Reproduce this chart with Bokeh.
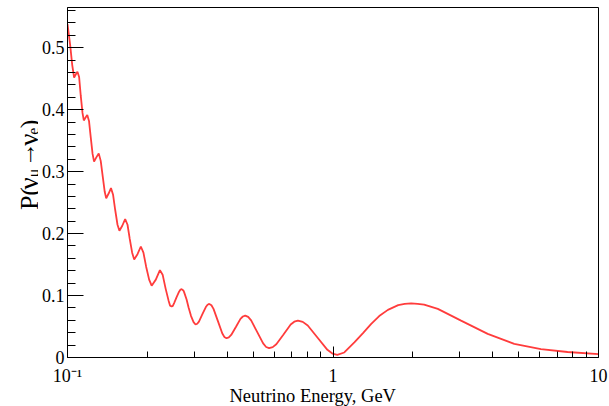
from math import pi
from bokeh.plotting import figure
from bokeh.layouts import row
from bokeh.models import FixedTicker, CustomJSTickFormatter, Title
from bokeh.core.properties import value
from bokeh.embed import file_html
from bokeh.resources import INLINE

# ---- data ----
energy_gev = [
    0.1, 0.1023, 0.1042, 0.1059, 0.1074, 0.1090, 0.1106, 0.1122, 0.1139, 0.1152,
    0.1170, 0.1187, 0.1205, 0.1224, 0.1243, 0.1259, 0.1284, 0.1311, 0.1334, 0.1358,
    0.1381, 0.1399, 0.1430, 0.1458, 0.1485, 0.1512, 0.1543, 0.1569, 0.1608, 0.1649,
    0.1683, 0.1715, 0.1752, 0.1783, 0.1835, 0.1889, 0.1932, 0.1978, 0.2030, 0.2075,
    0.2151, 0.2229, 0.2282, 0.2342, 0.2403, 0.2435, 0.2466, 0.2493, 0.2521, 0.2576,
    0.2632, 0.2661, 0.2690, 0.2731, 0.2749, 0.2809, 0.2858, 0.2920, 0.2984, 0.3036,
    0.3081, 0.3127, 0.3222, 0.3319, 0.3369, 0.3420, 0.3484, 0.3548, 0.3686, 0.3826,
    0.3896, 0.3972, 0.4051, 0.4136, 0.4307, 0.4482, 0.4576, 0.4670, 0.4791, 0.4917,
    0.5179, 0.5456, 0.5599, 0.5746, 0.5929, 0.6116, 0.6510, 0.6928, 0.7147, 0.7375,
    0.7693, 0.8033, 0.8752, 0.9526, 0.9948, 1.038, 1.103, 1.206, 1.297, 1.393,
    1.493, 1.610, 1.760, 1.862, 1.970, 2.084, 2.204, 2.482, 3.036, 3.826,
    4.816, 6.069, 7.646, 10.0,
]
prob_mu_e = [
    0.5382, 0.5052, 0.4721, 0.4520, 0.4568, 0.4613, 0.4528, 0.4222, 0.3948, 0.3827,
    0.3875, 0.3916, 0.3819, 0.3545, 0.3287, 0.3163, 0.3231, 0.3295, 0.3174, 0.2917,
    0.2675, 0.2570, 0.2651, 0.2734, 0.2626, 0.2385, 0.2143, 0.2046, 0.2127, 0.2235,
    0.2143, 0.1918, 0.1692, 0.1582, 0.1668, 0.1792, 0.1692, 0.1466, 0.1257, 0.1160,
    0.1257, 0.1410, 0.1337, 0.1112, 0.0918, 0.0835, 0.0822, 0.0833, 0.0878, 0.0975,
    0.1063, 0.1093, 0.1104, 0.1083, 0.1055, 0.0935, 0.0806, 0.0669, 0.0572, 0.0532,
    0.0545, 0.0580, 0.0699, 0.0815, 0.0852, 0.0865, 0.0844, 0.0785, 0.0588, 0.0392,
    0.0332, 0.0311, 0.0325, 0.0364, 0.0493, 0.0624, 0.0662, 0.0677, 0.0657, 0.0599,
    0.0413, 0.0227, 0.0169, 0.0150, 0.0168, 0.0214, 0.0372, 0.0532, 0.0578, 0.0596,
    0.0575, 0.0516, 0.0319, 0.0124, 0.0064, 0.0044, 0.0081, 0.0247, 0.0395, 0.0543,
    0.0669, 0.0769, 0.0846, 0.0865, 0.0875, 0.0867, 0.0854, 0.0785, 0.0596, 0.0382,
    0.0221, 0.0134, 0.0089, 0.0056,
]

x_major = [0.1, 1.0, 10.0]
x_major_labels = ["10\u207b\u00b9", "1", "10"]
x_minor = [0.2, 0.3, 0.4, 0.5, 0.6, 0.7, 0.8, 0.9, 2, 3, 4, 5, 6, 7, 8, 9]
y_major = [0.0, 0.1, 0.2, 0.3, 0.4, 0.5]
y_major_labels = ["0", "0.1", "0.2", "0.3", "0.4", "0.5"]
y_minor = [0.02, 0.04, 0.06, 0.08, 0.12, 0.14, 0.16, 0.18, 0.22, 0.24, 0.26, 0.28,
           0.32, 0.34, 0.36, 0.38, 0.42, 0.44, 0.46, 0.48, 0.52, 0.54, 0.56]

x_title = "Neutrino Energy, GeV"
y_title_roman = ["P(", ")"]
y_title_nu = ["\u03bd", "\u03bd"]
y_title_arrow = ["\u2192"]
y_title_subs = ["\u03bc", "e"]
FONT = "Liberation Serif"

W, H = 609, 406
TW = 38   # left strip carrying the y title

# ---- strip with the y title ----
ty = figure(width=TW, height=H, x_range=(0, TW), y_range=(0, H),
            output_backend="svg", toolbar_location=None,
            x_axis_location=None, y_axis_location=None, min_border=0)
ty.outline_line_color = None
ty.xgrid.visible = False
ty.ygrid.visible = False
ty.background_fill_color = "white"
ty.border_fill_color = "white"
ty.text(x=[28.5, 28.5], y=[171, 266], text=y_title_roman,
        angle=pi / 2, text_font=value(FONT), text_font_size="26px", text_color="black",
        text_align="left", text_baseline="alphabetic")
ty.text(x=[28.5, 28.5], y=[195, 245.5], text=y_title_nu,
        angle=pi / 2, text_font=value(FONT), text_font_size="27px", text_color="black",
        text_align="left", text_baseline="alphabetic")
ty.text(x=[26], y=[221], text=y_title_arrow,
        angle=pi / 2, text_font=value(FONT), text_font_size="25px", text_color="black",
        text_align="left", text_baseline="alphabetic")
ty.text(x=[33, 33], y=[209, 258.5], text=y_title_subs,
        angle=pi / 2, text_font=value(FONT), text_font_size="16px", text_color="black",
        text_align="left", text_baseline="alphabetic")

# ---- main plot ----
p = figure(width=W - TW, height=H, x_axis_type="log", x_range=(0.1, 10), y_range=(0, 0.565),
           output_backend="svg", toolbar_location=None,
           min_border_left=66 - TW, min_border_right=11, min_border_top=7,
           min_border_bottom=49)
p.background_fill_color = "white"
p.border_fill_color = "white"
p.outline_line_color = "black"
p.outline_line_width = 1
p.xgrid.visible = False
p.ygrid.visible = False

p.line(energy_gev, prob_mu_e, line_color="#ff3c3c", line_width=1.8)

# x axis
p.xaxis.ticker = FixedTicker(ticks=x_major, minor_ticks=x_minor)
p.xaxis.formatter = CustomJSTickFormatter(args=dict(vals=x_major, labs=x_major_labels), code="""
for (let i = 0; i < vals.length; i++) {
  if (Math.abs(Math.log10(tick) - Math.log10(vals[i])) < 1e-6) return labs[i];
}
return "";
""")
p.xaxis.major_tick_in = 11
p.xaxis.major_tick_out = 0
p.xaxis.minor_tick_in = 6
p.xaxis.minor_tick_out = 0
p.xaxis.major_label_standoff = 8

# y axis
p.yaxis.ticker = FixedTicker(ticks=y_major, minor_ticks=y_minor)
p.yaxis.formatter = CustomJSTickFormatter(args=dict(vals=y_major, labs=y_major_labels), code="""
for (let i = 0; i < vals.length; i++) {
  if (Math.abs(tick - vals[i]) < 1e-6) return labs[i];
}
return "";
""")
p.yaxis.major_tick_in = 16
p.yaxis.major_tick_out = 0
p.yaxis.minor_tick_in = 8
p.yaxis.minor_tick_out = 0
p.yaxis.major_label_standoff = 3
p.yaxis.major_label_orientation = "horizontal"

for ax in (p.xaxis[0], p.yaxis[0]):
    ax.axis_line_color = "black"
    ax.major_tick_line_color = "black"
    ax.minor_tick_line_color = "black"
    ax.major_label_text_font = FONT
    ax.major_label_text_font_size = "18px"
    ax.major_label_text_color = "black"

# x title below the axis
p.add_layout(Title(text=x_title, align="left", offset=228 - 66, standoff=-6,
                   text_font=FONT, text_font_size="18.5px", text_font_style="normal",
                   text_color="black", vertical_align="top"), "below")

layout = row(ty, p, spacing=0)
open("out.html", "w").write(file_html(layout, INLINE))
